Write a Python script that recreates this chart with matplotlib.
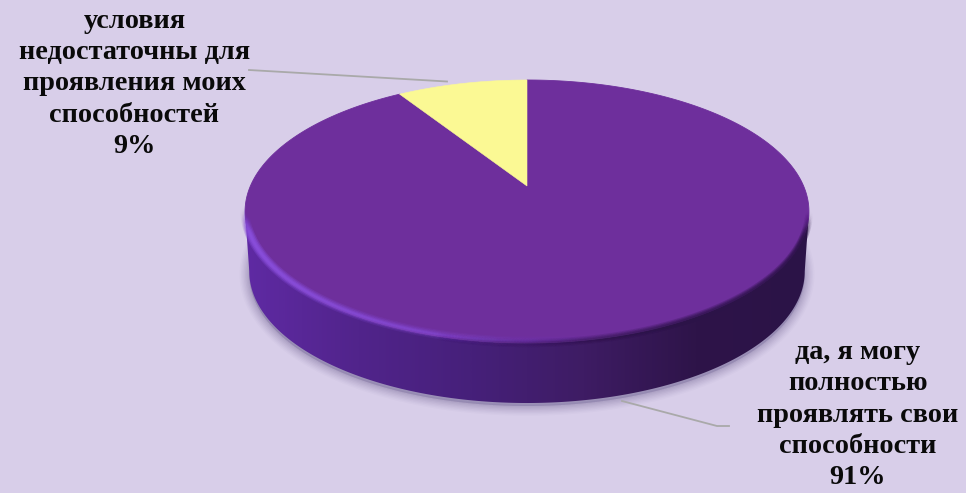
import numpy as np
import matplotlib
matplotlib.use("Agg")
import matplotlib.pyplot as plt
from matplotlib.collections import LineCollection
from matplotlib.colors import LinearSegmentedColormap, to_rgb
from matplotlib.patches import Polygon

# Chart data
labels = ["да, я могу\nполностью\nпроявлять свои\nспособности",
          "условия\nнедостаточны для\nпроявления моих\nспособностей"]
shares = [91, 9]
slice_colors = ["#6e2f9c", "#fbf994"]

bg = "#d8cee9"
wall_colors = ["#5f2aa3", "#51248b", "#46207a", "#3e1c64", "#2e1449", "#2b1347"]

# Pie placement in image pixels
cx, cy = 527, 186
radius_x = 276.6
tilt = 0.1939
squash = -90.5
depth = 60


def project(theta):
    # theta runs clockwise from 12 o'clock, perspective gives the off-centre apex
    u = np.sin(theta)
    v = np.cos(theta)
    w = 1 + tilt * v
    return cx + radius_x * u / w, (squash * v + cy) / w


def wedge_points(start, stop):
    t = np.linspace(start, stop, 300)
    x, y = project(t)
    return np.r_[cx, x], np.r_[cy, y]


fig = plt.figure(figsize=(9.66, 4.93), dpi=100, facecolor=bg)
ax = fig.add_axes([0, 0, 1, 1])
ax.set_xlim(0, 966)
ax.set_ylim(493, 0)
ax.axis("off")

# Outline of the disc
t_all = np.linspace(0, 2 * np.pi, 720)
ex, ey = project(t_all)
wall_x = cx + (ex - cx) * 0.985
wall_y = ey + depth

# Soft shadow under the wall
for grow, a in zip(range(14, 0, -2), [0.03, 0.04, 0.05, 0.06, 0.07, 0.08, 0.09]):
    ax.add_patch(Polygon(np.c_[wall_x, wall_y + 3], closed=True, fc="#6d5f90", ec="#6d5f90",
                         lw=grow, alpha=a, joinstyle="round", zorder=1))

# Side wall: horizontal gradient clipped to the swept outline
left = np.argmin(ex)
right = np.argmax(ex)
front = np.arange(right, left + 1)
wall_outline = np.r_[np.c_[ex[front], ey[front]], np.c_[wall_x[front], wall_y[front]][::-1]]
wall_clip = Polygon(wall_outline, closed=True, transform=ax.transData, fc="none", ec="none")
ax.add_patch(wall_clip)
cmap = LinearSegmentedColormap.from_list("wall", wall_colors)
img = ax.imshow(np.linspace(0, 1, 600)[None, :], cmap=cmap, aspect="auto",
                extent=[ex.min(), ex.max(), 493, 0], zorder=2)
img.set_clip_path(wall_clip)
ax.set_xlim(0, 966)
ax.set_ylim(493, 0)

# Slices, from the values, clockwise; the 9% slice ends at 12 o'clock
total = sum(shares)
yellow_span = 2 * np.pi * shares[1] / total
px, py = wedge_points(0, 2 * np.pi - yellow_span)
ax.add_patch(Polygon(np.c_[px, py], closed=True, fc=slice_colors[0], ec=slice_colors[0], lw=0.6, zorder=3))
px, py = wedge_points(2 * np.pi - yellow_span, 2 * np.pi)
ax.add_patch(Polygon(np.c_[px, py], closed=True, fc=slice_colors[1], ec=slice_colors[1], lw=0.4, zorder=4))

# Bevel along the front rim, bright on the left and dying out to the right
rx, ry = ex[front], ey[front]
segs = np.stack([np.c_[rx[:-1], ry[:-1]], np.c_[rx[1:], ry[1:]]], axis=1)
end_ramp = np.clip((ry[:-1] - ey[left]) / 25, 0, 1) * np.clip((ry[:-1] - ey[right]) / 25, 0, 1)
fade = np.clip((cx + 90 - rx[:-1]) / 370, 0, 1) * end_ramp
for lw, a in [(7, 0.10), (5, 0.16), (3, 0.26), (1.5, 0.38)]:
    rim = np.zeros((len(segs), 4))
    rim[:, :3] = to_rgb("#8a4fdc")
    rim[:, 3] = a * fade
    ax.add_collection(LineCollection(segs + [0, -2], colors=rim, linewidths=lw, capstyle="round", zorder=5))
fade_dark = np.clip((rx[:-1] - cx + 90) / 250, 0, 1) * end_ramp
for lw, a in [(6, 0.10), (4, 0.14), (2, 0.18)]:
    rim = np.zeros((len(segs), 4))
    rim[:, :3] = to_rgb("#2c1348")
    rim[:, 3] = a * fade_dark
    ax.add_collection(LineCollection(segs, colors=rim, linewidths=lw, capstyle="round", zorder=5))

# Leader lines
ax.plot([249, 447], [70, 81.5], color="#a9a9a9", lw=1.3, zorder=2)
ax.plot([622, 717, 729], [401, 426, 426], color="#a9a9a9", lw=1.3, zorder=2)

# Data labels
font = dict(family="Liberation Serif", fontweight="bold", fontsize=20.3, color="#0a0a0a",
            ha="center", va="center", linespacing=1.32)
ax.text(134.5, 84, f"{labels[1]}\n{shares[1]}%", **font)
ax.text(858, 415, f"{labels[0]}\n{shares[0]}%", **font)

fig.savefig("out.png", dpi=100, facecolor=bg)
